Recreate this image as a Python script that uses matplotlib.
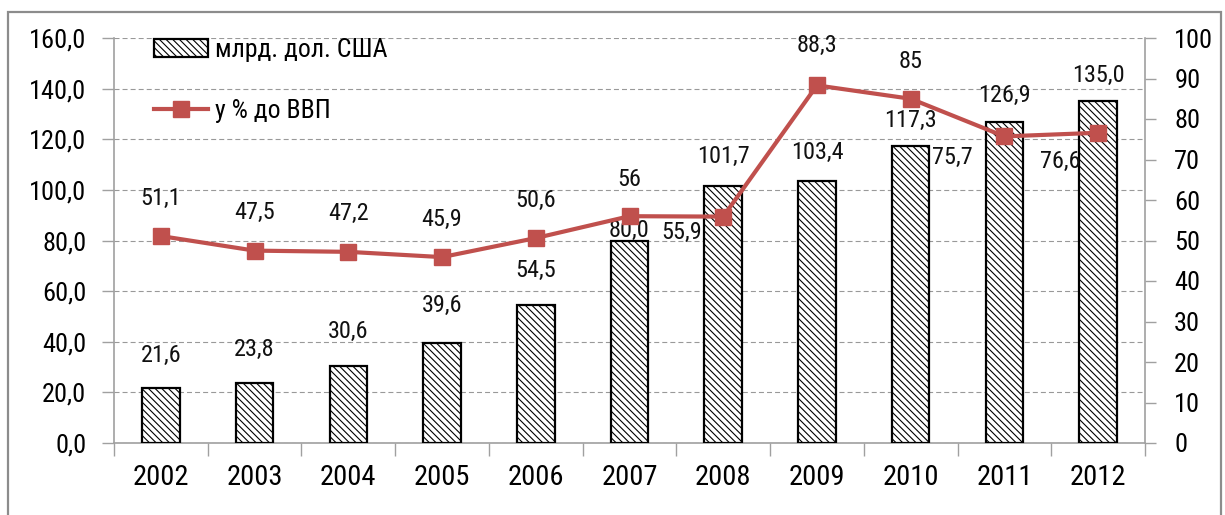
import matplotlib
matplotlib.use("Agg")
import matplotlib.pyplot as plt
from matplotlib import font_manager
from matplotlib.patches import Rectangle
from matplotlib.ticker import FixedLocator, MultipleLocator, FuncFormatter

# ---------------- data ----------------
years = ["2002", "2003", "2004", "2005", "2006", "2007", "2008", "2009", "2010", "2011", "2012"]
usd_bn = [21.6, 23.8, 30.6, 39.6, 54.5, 80.0, 101.7, 103.4, 117.3, 126.9, 135.0]
pct_gdp = [51.1, 47.5, 47.2, 45.9, 50.6, 56.0, 55.9, 88.3, 85.0, 75.7, 76.6]
pct_labels = ["51,1", "47,5", "47,2", "45,9", "50,6", "56", "55,9", "88,3", "85", "75,7", "76,6"]
legend_bar = "млрд. дол. США"
legend_line = "у % до ВВП"

# ---------------- style ----------------
names = {f.name for f in font_manager.fontManager.ttflist}
cands = ["Liberation Sans Narrow", "Arial Narrow", "Roboto Condensed", "PT Sans Narrow",
         "Fira Sans Condensed", "IBM Plex Sans Condensed", "Open Sans Condensed"]
FAM = [c for c in cands if c in names][:1] + ["Liberation Sans", "DejaVu Sans"]
plt.rcParams["font.family"] = FAM
plt.rcParams["hatch.linewidth"] = 0.8
plt.rcParams["lines.scale_dashes"] = False

RED = "#C0504D"
AXC = "#a0a0a0"
DPI = 100
W, H = 1225, 515

fig = plt.figure(figsize=(W / DPI, H / DPI), dpi=DPI)
L, R, T, B = 114, 1145, 38, 443
ax1 = fig.add_axes([L / W, (H - B) / H, (R - L) / W, (B - T) / H])
ax2 = ax1.twinx()

# outer frame (gray)
fig.patches.append(Rectangle((8 / W, -0.05), (1221 - 8) / W, 1.05 - 12 / H,
                             transform=fig.transFigure, fill=False,
                             edgecolor="#8c8c8c", linewidth=1.6, zorder=0))

x = list(range(len(years)))
ax1.bar(x, usd_bn, width=0.4, facecolor="white", edgecolor="black",
        linewidth=1.6, hatch="\\\\\\\\\\", label=legend_bar, zorder=3)

ax1.set_xlim(-0.5, len(years) - 0.5)
ax1.set_ylim(0, 160)
ax2.set_ylim(0, 100)

# bar labels
bar_off = [-33, -33, -34, -37, -35, -10, -29, -29, -26, -26, -26]
for xi, v, off in zip(x, usd_bn, bar_off):
    ax1.annotate(f"{v:.1f}".replace(".", ","), (xi, v), xytext=(0, -off),
                 textcoords="offset pixels", ha="center", va="center",
                 fontsize=17.5, color="#111111", zorder=5)

# line
ax2.plot(x, pct_gdp, color=RED, linewidth=3.0, marker="s", markersize=12,
         label=legend_line, zorder=4)
line_off = [(0, 38), (0, 38), (0, 38), (0, 38), (0, 38), (0, 37), (-42, -16),
            (0, 40), (0, 37), (-52, -21), (-38, -29)]
for xi, v, s, (dx, dy) in zip(x, pct_gdp, pct_labels, line_off):
    ax2.annotate(s, (xi, v), xytext=(dx, dy), textcoords="offset pixels",
                 ha="center", va="center", fontsize=17.5, color="#111111", zorder=6)

# grid
ax1.yaxis.set_major_locator(MultipleLocator(20))
ax1.grid(axis="y", color="#999999", linestyle=(0, (3.6, 2.2)), linewidth=0.8, zorder=0)
ax1.set_axisbelow(True)

# ticks
ax1.set_xticks(x)
ax1.set_xticklabels(years)
ax1.xaxis.set_minor_locator(FixedLocator([i - 0.5 for i in range(len(years) + 1)]))
ax1.tick_params(axis="x", which="major", length=0, pad=15, labelsize=20.5)
ax1.tick_params(axis="x", which="minor", length=9, width=1, color=AXC, direction="out")
ax1.tick_params(axis="y", length=9, width=1, color=AXC, pad=11, labelsize=19)
ax1.yaxis.set_major_formatter(FuncFormatter(lambda v, p: f"{v:.1f}".replace(".", ",")))
ax2.yaxis.set_major_locator(MultipleLocator(10))
ax2.tick_params(axis="y", length=8, width=1, color=AXC, pad=13, labelsize=19)

for a in (ax1, ax2):
    a.spines["top"].set_visible(False)
    for s in ("left", "right", "bottom"):
        a.spines[s].set_color(AXC)
        a.spines[s].set_linewidth(1.2)
ax1.spines["right"].set_visible(False)
ax2.spines["left"].set_visible(False)
ax2.spines["bottom"].set_visible(False)

# legend
h1, l1 = ax1.get_legend_handles_labels()
h2, l2 = ax2.get_legend_handles_labels()
ax2.legend(h1 + h2, l1 + l2, loc="upper left", bbox_to_anchor=(0.039, 1.0),
           frameon=False, fontsize=18.5, handlelength=2.1, handletextpad=0.25,
           labelspacing=1.45, borderpad=0, borderaxespad=0)

fig.savefig("out.png", dpi=DPI)
